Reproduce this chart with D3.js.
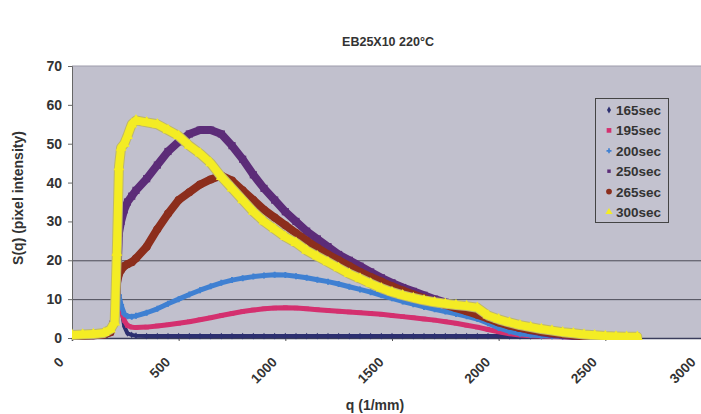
<!DOCTYPE html>
<html><head><meta charset="utf-8">
<script src="https://cdn.jsdelivr.net/npm/d3@7"></script>
<style>
body{margin:0;background:#fff}
svg{display:block}
text{font-family:Arial,"Liberation Sans",sans-serif;font-weight:bold;fill:#333}
</style>
</head><body>
<svg id="c" width="701" height="414"></svg>
<script>
// ---- data ----
const q = [0,50,100,150,180,200,210,220,230,245,260,280,300,350,400,450,500,550,600,650,700,750,800,850,900,950,1000,1050,1100,1150,1200,1250,1300,1350,1400,1450,1500,1550,1600,1650,1700,1750,1800,1850,1900,1950,2000,2050,2100,2150,2200,2250,2300,2350,2400,2450,2500,2550,2600,2650,2700];
const s165 = [0.6,0.6,0.7,0.9,1.5,3.5,7,10.5,8,3,1.2,0.8,0.6,0.5,0.5,0.5,0.5,0.5,0.5,0.5,0.5,0.5,0.5,0.5,0.5,0.5,0.5,0.5,0.5,0.5,0.5,0.5,0.5,0.5,0.5,0.5,0.5,0.5,0.5,0.5,0.5,0.5,0.5,0.5,0.5,0.5,0.5,0.4,0.4,0.4,0.4,0.4,0.4,0.3,0.3,0.3,0.3,0.3,0.2,null,null];
const s195 = [0.6,0.6,0.7,0.9,1.5,3.5,7,10.5,7.5,4.5,3.2,2.8,2.7,2.8,3.1,3.4,3.8,4.2,4.7,5.2,5.8,6.3,6.8,7.2,7.5,7.7,7.8,7.7,7.5,7.3,7.1,6.9,6.7,6.5,6.3,6.1,5.8,5.5,5.2,4.9,4.6,4.2,3.8,3.3,2.8,2.2,1.6,1.1,0.8,0.6,0.5,0.4,0.3,0.2,0.2,0.2,0.2,0.2,null,null,null];
const s200 = [0.6,0.6,0.7,0.9,1.6,4,8,11,8.5,6.2,5.6,5.5,5.7,6.5,7.5,8.8,10,11.2,12.3,13.3,14.2,14.9,15.4,15.8,16.1,16.3,16.2,15.9,15.5,15,14.5,13.9,13.2,12.5,11.8,11,10.2,9.4,8.7,8,7.4,6.8,6.2,5.6,4.9,3.8,2.6,1.7,1.1,0.8,0.6,0.5,0.4,0.3,0.2,0.2,0.2,0.2,null,null,null];
const s250 = [0.6,0.6,0.7,0.9,1.6,5,12,27,30,33,35,36.5,38,41,44.5,48,50.5,52.5,53.5,53.5,52.5,49.5,46,42,38.5,35.5,32.5,30,27.5,25.5,23.5,21.5,20,18.5,17,15.5,14.2,13,12,11,10,9.2,8.4,7.6,6.8,5.5,4.2,3.3,2.6,2,1.5,1.1,0.8,0.6,0.4,0.3,0.2,0.2,null,null,null];
const s265 = [0.6,0.6,0.7,0.9,1.5,5,14,16.5,17.5,18.5,19,19.5,20.5,23.5,28,32,35.5,37.5,39.5,40.8,41.8,40.5,38,35.5,33,31,29,27,25,23.2,21.5,20,18.5,17,15.7,14.5,13.3,12.2,11.2,10.2,9.3,8.5,7.7,6.9,6,5,4,3.2,2.6,2.1,1.7,1.3,1,0.7,0.4,0.3,0.2,null,null,null,null];
const s300 = [0.8,0.9,1,1.3,2.2,4,22,44,49,50,52,55,56,55.5,55,53.5,52,49.5,47.5,45,41.5,38.5,35.5,32.5,30,28,26,24.5,22.5,21,19.5,18,16.5,15.3,14,12.8,11.8,11,10.3,9.7,9.2,8.8,8.5,8.2,7.8,5.8,4.8,4,3.3,2.8,2.3,1.9,1.5,1.2,0.9,0.7,0.5,0.4,0.3,0.3,null];
const seriesNames = ["165sec","195sec","200sec","250sec","265sec","300sec"];
const seriesValues = [s165,s195,s200,s250,s265,s300];
const seriesColors = ["#2c2f70","#d4306f","#3f80d2","#5c2c78","#8c2e1c","#f4ec24"];
const seriesWidths = [4,5,5,8,8,8];
const yTicks = [0,10,20,30,40,50,60,70];
const xTicks = [0,500,1000,1500,2000,2500,3000];
const gridVals = [10,20];

// ---- layout ----
const svg = d3.select("#c");
const x = d3.scaleLinear().domain([0,3000]).range([72,712]);
const y = d3.scaleLinear().domain([0,70]).range([338,66]);

svg.append("text").attr("x",388).attr("y",46).attr("text-anchor","middle")
  .style("font-size","12.5px").text("EB25X10 220°C");

svg.append("rect").attr("x",72).attr("y",66).attr("width",640).attr("height",272)
  .attr("fill","#c1c0cd");
svg.append("line").attr("x1",72).attr("x2",712).attr("y1",y(70)).attr("y2",y(70))
  .attr("stroke","#9e9cab").attr("stroke-width",1.2);

svg.append("g").selectAll("line").data(gridVals).join("line")
  .attr("x1",72).attr("x2",712).attr("y1",d=>y(d)+0.5).attr("y2",d=>y(d)+0.5)
  .attr("stroke","#4a4a55").attr("stroke-width",1);

// y axis
const yAxis = d3.axisLeft(y).tickValues(yTicks).tickSize(4).tickPadding(6);
const gy = svg.append("g").attr("transform","translate(72,0)").call(yAxis);
gy.select(".domain").attr("stroke","#666");
gy.selectAll(".tick line").attr("stroke","#666");
gy.selectAll(".tick text").style("font-size","14px").style("font-family","Arial,'Liberation Sans',sans-serif").attr("fill","#333");

// x axis
const xAxis = d3.axisBottom(x).tickValues(xTicks).tickSize(3).tickFormat(d3.format("d"));
const gx = svg.append("g").attr("transform","translate(0,338)").call(xAxis);
gx.select(".domain").attr("stroke","#3a3d5c").attr("stroke-width",1.5);
gx.selectAll(".tick line").attr("stroke","#555");
gx.selectAll(".tick text").style("font-size","13.5px").style("font-family","Arial,'Liberation Sans',sans-serif")
  .attr("fill","#333").attr("text-anchor","end").attr("y",0).attr("dy",0)
  .attr("transform",d=>`translate(${d===3000?-16:-8},25) rotate(-45)`);

// series
svg.append("clipPath").attr("id","pc").append("rect")
  .attr("x",72).attr("y",40).attr("width",640).attr("height",300);
const plot = svg.append("g").attr("clip-path","url(#pc)");
const line = d3.line().defined(d=>d[1]!=null).x(d=>x(d[0])).y(d=>y(d[1]));
const syms = [d3.symbolDiamond,d3.symbolSquare,d3.symbolCross,d3.symbolSquare,d3.symbolCircle,d3.symbolTriangle];
seriesValues.forEach((vals,i)=>{
  const pts = q.map((qq,j)=>[qq,vals[j]]);
  const g = plot.append("g");
  if(i===5){
    g.append("path").attr("d",line(pts)).attr("fill","none")
      .attr("stroke","#bdb66e").attr("stroke-width",seriesWidths[i]+2)
      .attr("stroke-linejoin","round").attr("stroke-linecap","round");
  }
  g.append("path").attr("d",line(pts)).attr("fill","none")
    .attr("stroke",seriesColors[i]).attr("stroke-width",seriesWidths[i])
    .attr("stroke-linejoin","round").attr("stroke-linecap","round");
  g.selectAll("path.m").data(pts.filter(d=>d[1]!=null)).join("path").attr("class","m")
    .attr("transform",d=>`translate(${x(d[0])},${y(d[1])})`)
    .attr("d",d3.symbol().type(syms[i]).size(seriesWidths[i]*seriesWidths[i]*0.8))
    .attr("fill",seriesColors[i]);
});

// axis titles
svg.append("text").attr("x",375).attr("y",410).attr("text-anchor","middle")
  .style("font-size","14px").text("q (1/mm)");
svg.append("text").attr("transform","translate(23,198) rotate(-90)").attr("text-anchor","middle")
  .style("font-size","14px").text("S(q) (pixel intensity)");

// legend
const lg = svg.append("g");
lg.append("rect").attr("x",595.5).attr("y",98.5).attr("width",73).attr("height",124)
  .attr("fill","#c3c2cf").attr("stroke","#444").attr("stroke-width",1);
const legSizes = [14,22,14,12,26,22];
seriesNames.forEach((n,i)=>{
  const yy = 110 + i*20.4;
  lg.append("path").attr("transform",`translate(609,${yy})`)
    .attr("d",d3.symbol().type(syms[i]).size(legSizes[i])).attr("fill",seriesColors[i]);
  lg.append("text").attr("x",616).attr("y",yy+5).style("font-size","13.5px").text(n);
});
</script>
</body></html>
